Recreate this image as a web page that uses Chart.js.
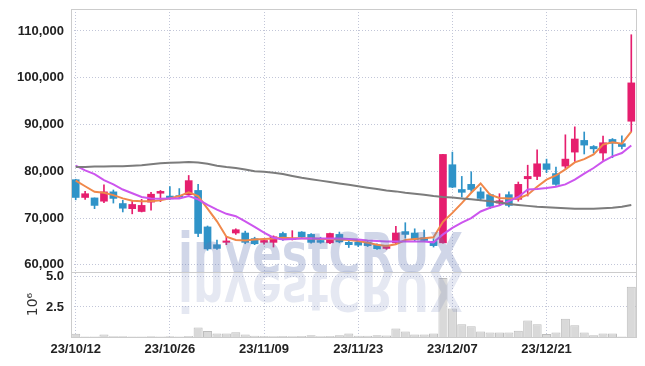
<!DOCTYPE html>
<html>
<head>
<meta charset="utf-8">
<script src="https://cdn.jsdelivr.net/npm/chart.js@4"></script>
<style>
  body { margin: 0; background: #fff; }
</style>
</head>
<body>
<canvas id="myChart" width="645" height="366"></canvas>
<script>
// trading days, 23/10/12 .. 24/01/08
var dates = ["23/10/12","23/10/13","23/10/16","23/10/17","23/10/18","23/10/19","23/10/20","23/10/23","23/10/24","23/10/25",
  "23/10/26","23/10/27","23/10/30","23/10/31","23/11/01","23/11/02","23/11/03","23/11/06","23/11/07","23/11/08",
  "23/11/09","23/11/10","23/11/13","23/11/14","23/11/15","23/11/16","23/11/17","23/11/20","23/11/21","23/11/22",
  "23/11/23","23/11/24","23/11/27","23/11/28","23/11/29","23/11/30","23/12/01","23/12/04","23/12/05","23/12/06",
  "23/12/07","23/12/08","23/12/11","23/12/12","23/12/13","23/12/14","23/12/15","23/12/18","23/12/19","23/12/20",
  "23/12/21","23/12/22","23/12/26","23/12/27","23/12/28","24/01/02","24/01/03","24/01/04","24/01/05","24/01/08"];

var open  = [78200,74400,74300,73600,75600,73100,72000,71400,73400,75300,
  74700,74800,75000,75900,68100,64300,64800,66800,66800,65600,
  64800,64800,66700,65400,67000,66500,65200,64700,66500,64800,
  64800,64800,64200,63500,64700,67100,66800,65800,65000,64700,
  81400,76100,77200,75600,75000,73200,75000,74000,78400,78900,
  81600,79500,81100,84100,86600,85300,83900,86800,85900,90700];
var high  = [78300,75700,74300,77100,76000,73800,73800,74000,75500,75900,
  76700,76300,79100,77200,68300,65300,66000,67700,67200,65900,
  65600,66200,67000,67300,67100,66700,65900,66800,67000,65000,
  65000,65000,64500,64200,68200,69000,67700,67400,65600,83600,
  84100,78900,79900,76500,75200,75200,75600,77700,81300,84600,
  82600,80900,87800,89500,88400,85500,87500,87000,87600,109200];
var low   = [73900,74000,72000,73300,73200,71300,70900,71300,71700,73500,
  74000,74300,74900,66000,63100,63300,64300,66500,64500,64300,
  64400,63800,65200,65300,65800,64600,64600,64500,64700,63700,
  63900,63900,63300,63300,64500,65700,65000,65000,63800,64600,
  76500,74500,75700,73700,72000,72700,72400,73600,74700,78200,
  79700,77000,80600,82100,83700,83900,82300,82900,84800,88500];
var close = [74400,75200,72700,75600,74200,72100,72900,72700,75100,75700,
  74100,74500,78000,66700,63400,63500,65100,67500,64800,64500,
  65200,66000,65400,65600,66000,64800,64800,66700,64900,64300,
  64200,64100,63400,63900,66800,66500,65400,65200,64100,83600,
  76600,75500,76100,74200,72500,73700,72700,77200,78900,81600,
  80400,77200,82600,86900,85600,84800,86100,86000,85300,98900];
// volume, millions of shares
var volume = [0.28,0.05,0.05,0.2,0.06,0.06,0.05,0.05,0.06,0.05,
  0.06,0.05,0.08,0.78,0.5,0.3,0.3,0.39,0.2,0.1,
  0.08,0.06,0.08,0.06,0.08,0.15,0.06,0.08,0.15,0.3,
  0.1,0.1,0.15,0.12,0.7,0.45,0.2,0.2,0.3,4.9,
  2.37,1.05,0.9,0.45,0.37,0.37,0.37,0.53,1.38,1.05,
  0.25,0.37,1.52,0.97,0.37,0.15,0.3,0.3,0.05,4.17];
// moving averages
var maShort = [78000,76800,75600,75400,74900,74200,73700,73600,73600,73800,
  74200,74700,75500,74700,72000,69300,66000,65300,65200,65400,
  65500,65600,65800,65700,65700,65600,65500,65500,65400,65300,
  65100,64700,64300,64000,64400,65300,65500,65700,65900,69200,
  71100,73200,75400,77400,75000,74300,74200,74200,75000,76700,
  78200,79100,80400,81900,82600,83600,85700,86200,85900,88500];
var maMid = [81200,80200,79400,78100,77200,76100,75300,74500,74200,74100,
  74200,74200,74700,74000,72800,71800,70900,70400,69300,68100,
  66900,65800,65400,65500,65600,65600,65600,65600,65600,65500,
  65400,65200,65100,65000,65000,65000,65000,65000,64800,66500,
  67900,69000,70000,71400,72200,72700,73600,74500,76100,76200,
  76400,76700,77200,78200,79500,80700,82100,83200,83900,85500];
var maLong = [80900,80900,81000,81000,81100,81100,81200,81300,81500,81700,
  81800,81900,82000,81900,81600,81200,80900,80700,80400,80000,
  79900,79700,79400,79000,78600,78300,78000,77700,77400,77100,
  76800,76500,76200,75900,75700,75400,75200,75000,74700,74500,
  74400,74200,74000,73800,73600,73300,73000,72800,72600,72400,
  72300,72200,72100,72000,72000,72000,72100,72200,72400,72800];
var priceTicks = [60000, 70000, 80000, 90000, 100000, 110000];
var volumeTicks = [2.5, 5.0];

var upColor = '#e61e6e';
var downColor = '#2f93c8';
var candleColors = open.map(function (o, i) { return close[i] >= o ? upColor : downColor; });
var wicks = low.map(function (l, i) { return [l, high[i]]; });
var bodies = open.map(function (o, i) { return [o, close[i]]; });

var tickFont = { family: "'Liberation Sans', Arial, sans-serif", size: 13, weight: 'bold' };
var gridColor = '#c2c6d8';

function fitLeft(s) {
  s.width = 71;
  s.paddingTop = 0;
  s.paddingBottom = 0;
}

// box around both panels
var panelBox = {
  id: 'panelBox',
  afterDraw: function (chart) {
    var ctx = chart.ctx, a = chart.chartArea;
    ctx.save();
    ctx.strokeStyle = '#cccccc';
    ctx.lineWidth = 1;
    ['y', 'yv'].forEach(function (id) {
      var s = chart.scales[id];
      ctx.strokeRect(Math.round(a.left) + 0.5, Math.round(s.top) + 0.5, Math.round(a.right - a.left), Math.round(s.bottom - s.top));
    });
    ctx.restore();
  }
};

// investCRUX mark with its reflection, sitting on the panel divider
var watermark = {
  id: 'watermark',
  afterDatasetsDraw: function (chart) {
    var ctx = chart.ctx;
    var text = 'investCRUX';
    var x0 = 178, base = chart.scales.y.bottom, w = 285;
    ctx.save();
    ctx.font = "bold 56px 'DejaVu Sans', sans-serif";
    var k = w / ctx.measureText(text).width;
    ctx.translate(x0, base);
    ctx.scale(k, 1);
    ctx.fillStyle = 'rgba(100,120,180,0.3)';
    ctx.fillText(text, 0, 0);
    ctx.scale(1, -1);
    ctx.fillStyle = 'rgba(100,120,180,0.17)';
    ctx.fillText(text, 0, 0);
    ctx.restore();
  }
};

var ctx = document.getElementById('myChart').getContext('2d');
var myChart = new Chart(ctx, {
  data: {
    labels: dates,
    datasets: [
      { type: 'line', data: maLong, yAxisID: 'y', borderColor: '#7c7c7c', borderWidth: 2, pointRadius: 0, order: 1 },
      { type: 'line', data: maMid, yAxisID: 'y', borderColor: '#cc55ee', borderWidth: 2, pointRadius: 0, order: 1 },
      { type: 'line', data: maShort, yAxisID: 'y', borderColor: '#f0884a', borderWidth: 2, pointRadius: 0, order: 1 },
      { type: 'bar', data: wicks, yAxisID: 'y', backgroundColor: candleColors, barThickness: 1, grouped: false, order: 3 },
      { type: 'bar', data: bodies, yAxisID: 'y', backgroundColor: candleColors, barThickness: 7, grouped: false, order: 2 },
      { type: 'bar', data: volume, yAxisID: 'yv', backgroundColor: '#d9d9d9', borderColor: '#bdbdbd', borderWidth: 1,
        categoryPercentage: 1, barPercentage: 0.96, grouped: false, order: 4 }
    ]
  },
  options: {
    responsive: false,
    animation: false,
    layout: { padding: { top: 9, right: 9, bottom: 0, left: 0 } },
    plugins: { legend: { display: false }, tooltip: { enabled: false } },
    scales: {
      x: {
        offset: true,
        grid: { offset: false, color: gridColor, drawTicks: false },
        border: { display: false, dash: [1, 2] },
        ticks: {
          autoSkip: false, maxRotation: 0, padding: 5, color: '#222', font: tickFont,
          callback: function (v, i) { return i % 10 === 0 ? dates[i] : null; }
        },
        afterFit: function (s) { s.height = 29; }
      },
      yv: {
        position: 'left', stack: 'panels', stackWeight: 1,
        min: 0, max: 5.4,
        grid: { color: gridColor, drawTicks: false },
        border: { display: false, dash: [1, 2] },
        ticks: { padding: 7, color: '#222', font: tickFont, callback: function (v) { return v.toFixed(1); } },
        afterBuildTicks: function (s) { s.ticks = volumeTicks.map(function (v) { return { value: v }; }); },
        title: { display: true, text: '10⁶', color: '#333', font: { family: "'DejaVu Sans', sans-serif", size: 14 }, padding: { top: 25, bottom: 0 } },
        afterFit: fitLeft
      },
      y: {
        position: 'left', stack: 'panels', stackWeight: 4.05,
        min: 58450, max: 114700,
        grid: { color: gridColor, drawTicks: false },
        border: { display: false, dash: [1, 2] },
        ticks: { padding: 7, color: '#222', font: tickFont, callback: function (v) { return v.toLocaleString('en-US'); } },
        afterBuildTicks: function (s) { s.ticks = priceTicks.map(function (v) { return { value: v }; }); },
        afterFit: fitLeft
      }
    }
  },
  plugins: [panelBox, watermark]
});
</script>
</body>
</html>
